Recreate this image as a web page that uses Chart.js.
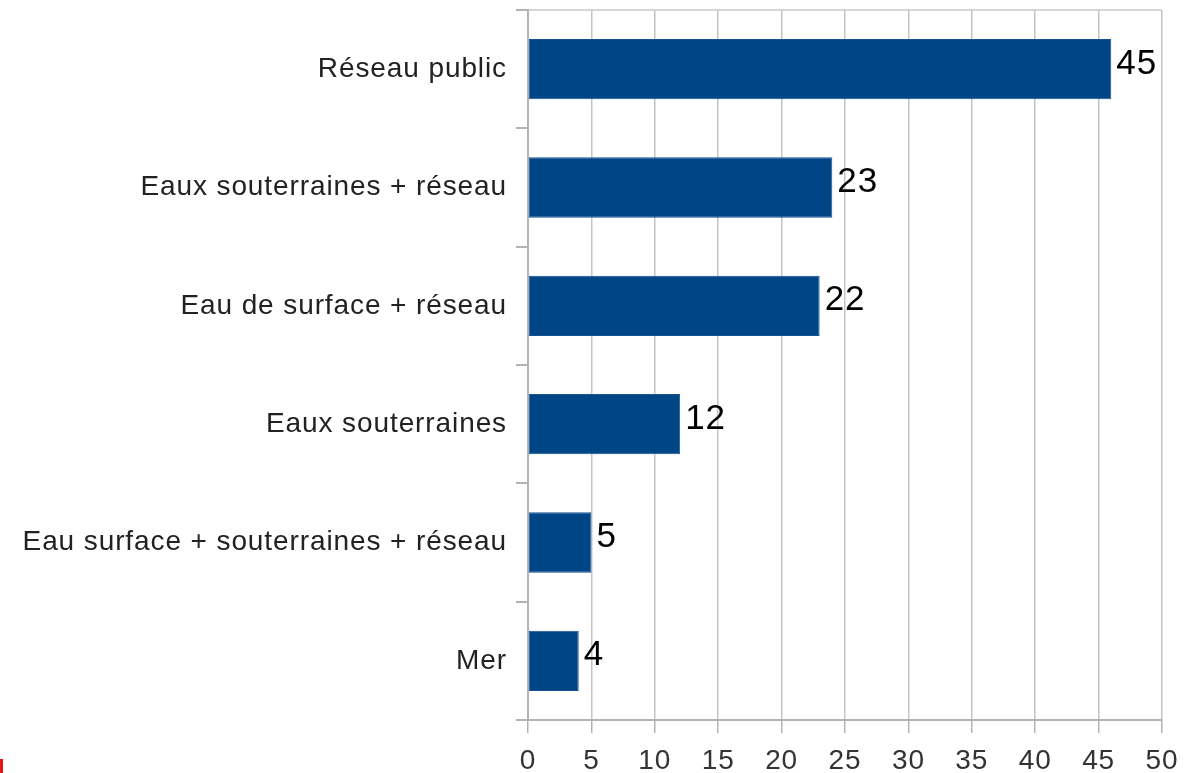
<!DOCTYPE html>
<html>
<head>
<meta charset="utf-8">
<script src="https://cdn.jsdelivr.net/npm/chart.js@4/dist/chart.umd.min.js"></script>
<style>
  html, body { margin: 0; padding: 0; background: #ffffff; }
  #wrap { position: relative; width: 1196px; height: 773px; }
  #mark { position: absolute; left: 0; top: 759px; width: 3px; height: 14px; background: #e8141c; }
</style>
</head>
<body>
<div id="wrap">
  <canvas id="c" width="1196" height="773"></canvas>
  <div id="mark"></div>
</div>
<script>
const categories = [
  "Réseau public",
  "Eaux souterraines + réseau",
  "Eau de surface + réseau",
  "Eaux souterraines",
  "Eau surface + souterraines + réseau",
  "Mer"
];
const values = [46, 24, 23, 12, 5, 4];
const valueLabels = ["45", "23", "22", "12", "5", "4"];
const xMin = 0;
const xMax = 50;
const xStep = 5;

const FONT = "'Liberation Sans', Arial, sans-serif";
const SPACING = '0.9px';

const spacingPlugin = {
  id: 'spacing',
  beforeLayout(chart) { chart.ctx.letterSpacing = SPACING; },
  beforeDraw(chart) { chart.ctx.letterSpacing = SPACING; }
};

const frameAndLabels = {
  id: 'frameAndLabels',
  beforeDatasetsDraw(chart) {
    const { ctx, chartArea } = chart;
    ctx.save();
    ctx.strokeStyle = '#c8c8c8';
    ctx.lineWidth = 1.5;
    ctx.beginPath();
    ctx.moveTo(chartArea.left, chartArea.top);
    ctx.lineTo(chartArea.right, chartArea.top);
    ctx.stroke();
    ctx.restore();
  },
  afterDatasetsDraw(chart) {
    const { ctx } = chart;
    const meta = chart.getDatasetMeta(0);
    ctx.save();
    ctx.letterSpacing = SPACING;
    ctx.font = "35px " + FONT;
    ctx.fillStyle = '#000000';
    ctx.textAlign = 'left';
    ctx.textBaseline = 'middle';
    meta.data.forEach((bar, i) => {
      ctx.fillText(valueLabels[i], bar.x + 5, bar.y - 5);
    });
    ctx.restore();
  }
};

new Chart(document.getElementById('c'), {
  type: 'bar',
  data: {
    labels: categories,
    datasets: [{
      data: values,
      backgroundColor: '#004586',
      borderColor: '#175392',
      borderWidth: 1,
      borderSkipped: false,
      barPercentage: 0.51,
      categoryPercentage: 1.0
    }]
  },
  options: {
    indexAxis: 'y',
    responsive: false,
    animation: false,
    devicePixelRatio: 1,
    layout: { padding: { top: 10, right: 34, left: 0, bottom: 0 } },
    plugins: {
      legend: { display: false },
      tooltip: { enabled: false },
      title: { display: false }
    },
    scales: {
      x: {
        type: 'linear',
        min: xMin,
        max: xMax,
        ticks: {
          stepSize: xStep,
          color: '#333333',
          font: { family: FONT, size: 28 },
          padding: 11
        },
        grid: {
          color: '#c4c4c4',
          lineWidth: 1.5,
          tickLength: 13,
          tickColor: '#b3b3b3'
        },
        border: { color: '#b3b3b3', width: 2 },
        afterFit(scale) {
          scale.height = 53;
          scale.paddingLeft = 0;
          scale.paddingRight = 0;
        }
      },
      y: {
        type: 'category',
        ticks: {
          color: '#222222',
          font: { family: FONT, size: 28 },
          padding: 9
        },
        grid: {
          drawOnChartArea: false,
          tickLength: 12,
          color: '#b3b3b3',
          lineWidth: 2,
          offset: true
        },
        border: { color: '#b3b3b3', width: 2 },
        afterFit(scale) {
          scale.width = 528;
          scale.paddingTop = 0;
          scale.paddingBottom = 0;
        }
      }
    }
  },
  plugins: [spacingPlugin, frameAndLabels]
});
</script>
</body>
</html>
